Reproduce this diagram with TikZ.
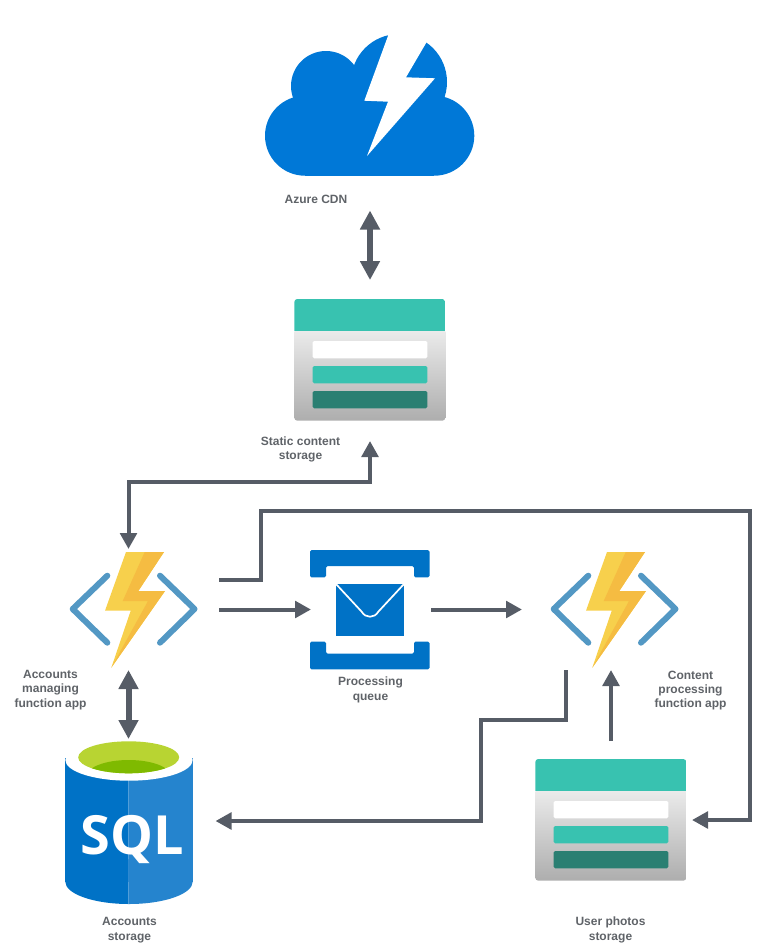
\documentclass[tikz,border=0pt]{standalone}
\usepackage{fontspec}
\setmainfont{Liberation Sans}
\newfontfamily\sqlfont{Open Sans}
\usetikzlibrary{arrows.meta,calc}
\definecolor{azblue}{HTML}{0078D7}
\definecolor{qblue}{HTML}{0072C6}
\definecolor{sqlL}{HTML}{0072C6}
\definecolor{sqlR}{HTML}{2584CE}
\definecolor{grnL}{HTML}{B8D432}
\definecolor{grnD}{HTML}{7FBA00}
\definecolor{teal}{HTML}{38C2B0}
\definecolor{dteal}{HTML}{2A7F72}
\definecolor{brk}{HTML}{5398C4}
\definecolor{ylw}{HTML}{F7D04C}
\definecolor{org}{HTML}{F5BC42}
\definecolor{line}{HTML}{565C66}
\definecolor{lbl}{HTML}{5F6368}
\tikzset{
  port/.style={inner sep=0pt,outer sep=0pt,draw=none,fill=none,rectangle},
  conn/.style={draw=line,line width=4pt,-{Triangle[width=16.5pt,length=16pt]}},
  conn2/.style={draw=line,line width=4pt,{Triangle[width=16.5pt,length=16pt]}-{Triangle[width=16.5pt,length=16pt]}},
  conn3/.style={draw=line,line width=6pt,{Triangle[width=19pt,length=19pt]}-{Triangle[width=19pt,length=19pt]}},
  lab/.style={font=\bfseries\fontsize{12}{14.4}\selectfont,text=lbl,align=center,inner sep=0pt},
}
\newcommand{\funcicon}{%
  \draw[brk,line width=6pt,line cap=round,line join=round] (107.3,575.7)--(72.7,609)--(107.3,642.7);
  \draw[brk,line width=6pt,line cap=round,line join=round] (160,575.7)--(194.5,609)--(160,642.7);
  \fill[ylw] (126,552)--(164,552)--(138.3,591)--(165,591)--(111.3,667.7)--(130.7,610.7)--(105,610.7)--cycle;
  \fill[org] (144.7,552)--(164,552)--(138.3,591)--(165,591)--(111.3,667.7)--(148,601)--(122.7,601)--cycle;
}
\newcommand{\storeicon}{%
  \begin{scope}
  \clip[rounded corners=3pt] (294.3,299) rectangle (445.3,420.7);
  \shade[top color=black!8,bottom color=black!32] (294.3,331) rectangle (445.3,420.7);
  \fill[teal] (294.3,299) rectangle (445.3,331);
  \end{scope}
  \fill[white,rounded corners=1.5pt] (312.7,341) rectangle (427.3,358.3);
  \fill[teal,rounded corners=1.5pt] (312.7,366) rectangle (427.3,383.3);
  \fill[dteal,rounded corners=1.5pt] (312.7,391) rectangle (427.3,408.3);
}
\begin{document}
\begin{tikzpicture}[x=1pt,y=-1pt]
\useasboundingbox (0,0) rectangle (762,951);
% CDN cloud
\fill[azblue] (305,135.7) circle[radius=40];
\fill[azblue] (434.3,135.7) circle[radius=40];
\fill[azblue] (326,86) circle[radius=35];
\fill[azblue] (399,82) circle[radius=48];
\fill[azblue] (305,95) rectangle (434.3,175.7);
\fill[white] (391.6,26)--(388.7,34)--(364.3,100.7)--(388,101.7)--(367,156)--(435,78.3)--(406,77.3)--(426.7,42)--(436,26)--cycle;
% storages
\storeicon
\begin{scope}[shift={(241,460)}]\storeicon\end{scope}
% functions
\funcicon
\begin{scope}[shift={(481,0)}]\funcicon\end{scope}
% queue
\fill[qblue,rounded corners=1.5pt] (310,577.3)--(310,550)--(429.5,550)--(429.5,577.3)--(414,577.3)--(414,566)--(326,566)--(326,577.3)--cycle;
\fill[qblue,rounded corners=1.5pt] (310,641.7)--(310,669.3)--(429.5,669.3)--(429.5,641.7)--(414,641.7)--(414,653.7)--(326,653.7)--(326,641.7)--cycle;
\fill[qblue] (336,584) rectangle (404,635.7);
\draw[white,line width=1.7pt] (336,584)--(361.7,611.7) .. controls (365.5,618.4) and (374.5,618.4) .. (378.3,611.7)--(404,584);
% SQL
\begin{scope}
\clip (60,758) rectangle (128.3,910);
\fill[sqlL] (65.3,758) rectangle (192.7,881.7);
\fill[sqlL] (129,881.7) ellipse[x radius=63.7,y radius=22.3];
\end{scope}
\begin{scope}
\clip (128.3,758) rectangle (200,910);
\fill[sqlR] (65.3,758) rectangle (192.7,881.7);
\fill[sqlR] (129,881.7) ellipse[x radius=63.7,y radius=22.3];
\end{scope}
\fill[white] (129,760) ellipse[x radius=63.7,y radius=20.7];
\fill[grnL] (128.7,757.3) ellipse[x radius=50.5,y radius=16];
\begin{scope}
\clip (128.7,757.3) ellipse[x radius=50.5,y radius=16];
\fill[grnD] (128.7,776) ellipse[x radius=42,y radius=16];
\end{scope}
\node[inner sep=0pt,text=white,font=\sqlfont\bfseries\fontsize{54}{60}\selectfont] (sqltxt) at (132.5,839.5) {SQL};
% invisible anchors of the icons
\node[port,minimum width=210pt,minimum height=176pt] (cdn) at (370,122.5) {};
\node[port,minimum width=152pt,minimum height=161pt] (static) at (370,360.5) {};
\node[port,minimum width=181pt,minimum height=121pt] (acc) at (128.5,609.5) {};
\node[port,minimum width=120pt,minimum height=119pt] (queue) at (371,609.5) {};
\node[port,minimum width=178pt,minimum height=121pt] (proc) at (611,609.5) {};
\node[port,minimum width=162pt,minimum height=158pt] (photos) at (611,820) {};
\node[port,minimum width=174pt,minimum height=164pt] (sql) at (128.5,821) {};
\coordinate (rtop) at (750,511);
% connectors
\draw[conn3] (cdn.south)--(static.north);
\draw[conn2] (static.south)--++(0,41)-|(acc.north);
\draw[conn3] (acc.south)--(sql.north);
\draw[conn] ($(acc.east)+(0,-29.5)$)--++(42,0)--++(0,-69)--(rtop)|-(photos.east);
\draw[conn] (acc.east)--(queue.west);
\draw[conn] (queue.east)--(proc.west);
\draw[conn] ($(proc.south)+(-45,0)$)--++(0,50)--++(-85,0)|-(sql.east);
\draw[conn] (photos.north)--(proc.south);
% labels
\node[lab] (l1) at (316,199.5) {Azure CDN};
\node[lab] (l2) at (300.5,449.5) {Static content\\storage};
\node[lab] (l3) at (50.5,690) {Accounts\\managing\\function app};
\node[lab] (l4) at (370.5,690) {Processing\\queue};
\node[lab] (l5) at (690.5,690.5) {Content\\processing\\function app};
\node[lab] (l6) at (129.5,930) {Accounts\\storage};
\node[lab] (l7) at (610.5,930) {User photos\\storage};
\end{tikzpicture}
\end{document}
